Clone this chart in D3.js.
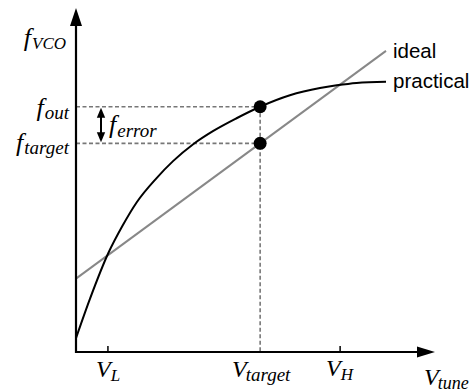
<!DOCTYPE html>
<html>
<head>
<meta charset="utf-8">
<script src="https://cdn.jsdelivr.net/npm/d3@7"></script>
<style>
  html, body { margin: 0; padding: 0; background: #fff; }
  svg { display: block; }
</style>
</head>
<body>
<script>
// Tuning voltage (arbitrary units) and the VCO frequency of the practical curve
const vTune      = [0, 4.5, 10.4, 15, 19.6, 26, 31.3, 37.8, 44.3, 51.8, 59.4, 69, 78.7, 84.1, 90.5, 100];
const fPractical = [4.6, 17.6, 32.7, 41.8, 49.6, 57.6, 63.2, 68.8, 73.2, 77.4, 81.2, 85.0, 87.4, 88.3, 89.1, 89.5];
// Ideal (linear) tuning characteristic, end points
const vIdeal = [0, 100];
const fIdeal = [24.3, 99.7];
// Marked voltages on the tuning axis
const vMarkNames  = ["L", "target", "H"];
const vMarkValues = [10.3, 59.4, 85.2];
// Axis extents (arrow tips)
const vAxisEnd = 115.8;
const fAxisEnd = 113.9;

const W = 475, H = 392;
const svg = d3.select("body").append("svg").attr("width", W).attr("height", H);

const x = d3.scaleLinear().domain([0, 100]).range([76, 386]);
const y = d3.scaleLinear().domain([0, 100]).range([352, 50]);

const vTarget = vMarkValues[1];
const fOut = fPractical[vTune.indexOf(vTarget)];
const fTarget = fIdeal[0] + (fIdeal[1] - fIdeal[0]) * (vTarget - vIdeal[0]) / (vIdeal[1] - vIdeal[0]);

// Dashed guides
const dash = svg.append("g").attr("stroke", "#777").attr("stroke-width", 1.6)
  .attr("stroke-dasharray", "4,2.5").attr("fill", "none");
dash.append("line").attr("x1", x(0)).attr("x2", x(vTarget)).attr("y1", y(fOut)).attr("y2", y(fOut));
dash.append("line").attr("x1", x(0)).attr("x2", x(vTarget)).attr("y1", y(fTarget)).attr("y2", y(fTarget));
dash.append("line").attr("x1", x(vTarget)).attr("x2", x(vTarget)).attr("y1", y(fOut)).attr("y2", y(0));

// Ideal characteristic
svg.append("line")
  .attr("x1", x(vIdeal[0])).attr("y1", y(fIdeal[0]))
  .attr("x2", x(vIdeal[1])).attr("y2", y(fIdeal[1]))
  .attr("stroke", "#888").attr("stroke-width", 2);

// Practical characteristic
const line = d3.line().x((d, i) => x(vTune[i])).y(d => y(d)).curve(d3.curveMonotoneX);
svg.append("path").datum(fPractical).attr("d", line)
  .attr("fill", "none").attr("stroke", "#000").attr("stroke-width", 2);

// Axes with arrow heads
const ax = svg.append("g");
ax.append("line").attr("x1", x(0)).attr("x2", x(vAxisEnd) - 12).attr("y1", y(0)).attr("y2", y(0))
  .attr("stroke", "#000").attr("stroke-width", 2.2);
ax.append("line").attr("x1", x(0)).attr("x2", x(0)).attr("y1", y(0) + 1).attr("y2", y(fAxisEnd) + 12)
  .attr("stroke", "#000").attr("stroke-width", 2.2);
ax.append("path")
  .attr("d", `M${x(vAxisEnd)},${y(0)} L${x(vAxisEnd) - 18},${y(0) - 5.5} L${x(vAxisEnd) - 18},${y(0) + 5.5} Z`)
  .attr("fill", "#000");
ax.append("path")
  .attr("d", `M${x(0)},${y(fAxisEnd)} L${x(0) - 6},${y(fAxisEnd) + 18} L${x(0) + 6},${y(fAxisEnd) + 18} Z`)
  .attr("fill", "#000");

// Ticks for V_L and V_H
[vMarkValues[0], vMarkValues[2]].forEach(v => {
  ax.append("line").attr("x1", x(v)).attr("x2", x(v)).attr("y1", y(0)).attr("y2", y(0) - 6)
    .attr("stroke", "#000").attr("stroke-width", 1.5);
});

// Operating points
svg.append("g").selectAll("circle").data([fOut, fTarget]).join("circle")
  .attr("cx", x(vTarget)).attr("cy", d => y(d)).attr("r", 6.5).attr("fill", "#000");

// Frequency error double arrow
const ex = 101;
const ea = svg.append("g");
ea.append("line").attr("x1", ex).attr("x2", ex).attr("y1", y(fOut) + 8).attr("y2", y(fTarget) - 8)
  .attr("stroke", "#000").attr("stroke-width", 2);
ea.append("path").attr("d", `M${ex},${y(fOut) + 1} L${ex - 4.2},${y(fOut) + 11} L${ex + 4.2},${y(fOut) + 11} Z`);
ea.append("path").attr("d", `M${ex},${y(fTarget) - 1} L${ex - 4.2},${y(fTarget) - 11} L${ex + 4.2},${y(fTarget) - 11} Z`);

// Italic serif text piece
function serifText(px, py, str, size) {
  return svg.append("text")
    .attr("x", px).attr("y", py)
    .style("font-family", "Liberation Serif")
    .style("font-style", "italic")
    .style("font-size", size + "px")
    .text(str);
}

// Symbol with subscript, as two separate text pieces; anchor "end" right-aligns the pair
function mathLabel(px, py, main, sub, anchor, mainSize, subSize, shift, gap) {
  const m = serifText(px, py, main, mainSize);
  const mw = m.node().getComputedTextLength();
  const s = serifText(px + mw + gap, py + shift, sub, subSize);
  if (anchor === "end") {
    const sw = s.node().getComputedTextLength();
    const total = mw + gap + sw;
    m.attr("x", px - total);
    s.attr("x", px - total + mw + gap);
  }
}

mathLabel(66, 46, "f", "VCO", "end", 26, 17, 3, 1);
mathLabel(69, 116, "f", "out", "end", 26, 19, 3, 1);
mathLabel(69, 151, "f", "target", "end", 26, 19, 3, 1);
mathLabel(109, 133, "f", "error", "start", 26, 19, 4, 1);

mathLabel(96, 377, "V", "L", "start", 24, 17, 4, 0);
mathLabel(232, 377, "V", "target", "start", 24, 19, 4, -1);
mathLabel(326, 376, "V", "H", "start", 24, 17, 4, 0);
mathLabel(424, 385, "V", "tune", "start", 24, 18, 4, -1);

// Curve labels
svg.append("text").style("font-family", "Liberation Sans").style("font-size", "20.5px")
  .attr("x", 393).attr("y", 58).text("ideal");
svg.append("text").style("font-family", "Liberation Sans").style("font-size", "20.5px")
  .attr("x", 393).attr("y", 88).text("practical");
</script>
</body>
</html>
